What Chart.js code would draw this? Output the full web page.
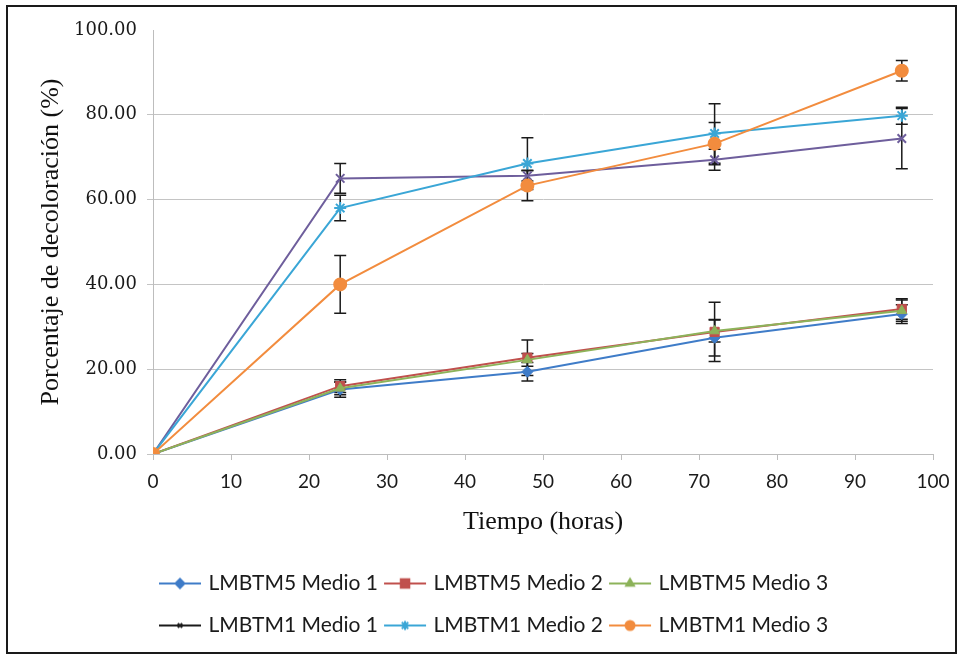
<!DOCTYPE html>
<html><head><meta charset="utf-8">
<script src="https://cdn.jsdelivr.net/npm/chart.js@4.4.0/dist/chart.umd.min.js"></script>
<style>
html,body{margin:0;padding:0;background:#fff;}
#wrap{position:relative;width:965px;height:656px;overflow:hidden;}
#frame{position:absolute;left:6px;top:5px;width:947px;height:645px;border:2px solid #1a1a1a;}
canvas{position:absolute;left:0;top:0;}
</style></head><body>
<div id="wrap"><div id="frame"></div><canvas id="c" width="965" height="656"></canvas></div>
<script>
// ---- data ----
const hours = [0, 24, 48, 72, 96];
const xTicks = [0, 10, 20, 30, 40, 50, 60, 70, 80, 90, 100];
const yTicks = [0, 20, 40, 60, 80, 100];

const seriesNames = ['LMBTM5 Medio 1', 'LMBTM5 Medio 2', 'LMBTM5 Medio 3',
                     'LMBTM1 Medio 1', 'LMBTM1 Medio 2', 'LMBTM1 Medio 3'];

const m5Medio1 = [0, 15.2, 19.4, 27.4, 33.0];
const m5Medio2 = [0, 16.0, 22.7, 28.8, 34.2];
const m5Medio3 = [0, 15.5, 22.2, 29.0, 33.8];
const m1Medio1 = [0, 65.0, 65.6, 69.4, 74.4];
const m1Medio2 = [0, 58.0, 68.5, 75.6, 79.8];
const m1Medio3 = [0, 40.0, 63.3, 73.2, 90.4];

const m5Medio1Err = [0, 1.8, 2.2, 4.3, 2.2];
const m5Medio2Err = [0, 1.5, 4.2, 7.0, 2.4];
const m5Medio3Err = [0, 1.5, 1.5, 2.6, 2.5];
const m1Medio1Err = [0, 3.5, 1.2, 2.5, 7.1];
const m1Medio2Err = [0, 3.0, 6.1, 7.0, 2.0];
const m1Medio3Err = [0, 6.8, 3.6, 5.0, 2.4];

// ---- styling ----
const colors = ['#3f7cc8', '#c0504d', '#8db35a', '#6e5e9c', '#3aa6d6', '#f28c3e'];
const legendColors = ['#3f7cc8', '#c0504d', '#8db35a', '#1a1a1a', '#3aa6d6', '#f28c3e'];
const styles = ['rectRot', 'rect', 'triangle', 'crossRot', 'star', 'circle'];
const radii = [5.5, 6.5, 5.5, 6, 6, 6];

const values = [m5Medio1, m5Medio2, m5Medio3, m1Medio1, m1Medio2, m1Medio3];
const errors = [m5Medio1Err, m5Medio2Err, m5Medio3Err, m1Medio1Err, m1Medio2Err, m1Medio3Err];

function legendIcon(i) {
  const cv = document.createElement('canvas');
  cv.width = 60; cv.height = 16;
  const ctx = cv.getContext('2d');
  ctx.strokeStyle = legendColors[i];
  ctx.fillStyle = legendColors[i];
  ctx.lineWidth = 2;
  ctx.beginPath(); ctx.moveTo(3, 8); ctx.lineTo(45, 8); ctx.stroke();
  const r = (i === 3) ? 3 : (i === 1 ? 6 : 4.5);
  Chart.helpers.drawPoint(ctx, {pointStyle: styles[i], radius: r, rotation: 0, borderWidth: i >= 3 ? 1.5 : 1}, 24, 8);
  return cv;
}

const datasets = seriesNames.map((name, i) => ({
  label: name,
  data: hours.map((h, k) => ({x: h, y: values[i][k]})),
  err: errors[i],
  borderColor: colors[i],
  backgroundColor: colors[i],
  borderWidth: 2,
  pointStyle: styles[i],
  pointRadius: radii[i],
  pointBorderWidth: (i >= 3) ? 2 : 1,
  pointBackgroundColor: colors[i],
  pointBorderColor: colors[i],
  tension: 0,
  order: 6 - i
}));

const errorBars = {
  id: 'errorBars',
  beforeDatasetsDraw(chart) {
    const ctx = chart.ctx;
    const xs = chart.scales.x, ys = chart.scales.y;
    ctx.save();
    ctx.strokeStyle = '#1a1a1a';
    ctx.lineWidth = 1.5;
    chart.data.datasets.forEach(ds => {
      ds.data.forEach((p, k) => {
        const e = ds.err[k];
        if (!e) return;
        const px = xs.getPixelForValue(p.x);
        const y1 = ys.getPixelForValue(p.y + e);
        const y2 = ys.getPixelForValue(p.y - e);
        ctx.beginPath();
        ctx.moveTo(px, y1); ctx.lineTo(px, y2);
        ctx.moveTo(px - 6, y1); ctx.lineTo(px + 6, y1);
        ctx.moveTo(px - 6, y2); ctx.lineTo(px + 6, y2);
        ctx.stroke();
      });
    });
    ctx.restore();
  }
};

new Chart(document.getElementById('c'), {
  type: 'line',
  data: {datasets},
  plugins: [errorBars],
  options: {
    responsive: false,
    animation: false,
    devicePixelRatio: 1,
    layout: {padding: {left: 30, right: 32, top: 30, bottom: 10}},
    plugins: {
      tooltip: {enabled: false},
      legend: {
        position: 'bottom',
        fullSize: false,
        align: 'start',
        labels: {
          usePointStyle: true,
          pointStyleWidth: 24,
          boxHeight: 16,
          padding: 21,
          color: '#1a1a1a',
          font: {family: 'Lato', size: 21},
          generateLabels(chart) {
            return chart.data.datasets.map((ds, i) => ({
              text: ds.label,
              fillStyle: colors[i],
              strokeStyle: colors[i],
              lineWidth: 0,
              pointStyle: legendIcon(i),
              fontColor: '#1a1a1a',
              datasetIndex: i,
              hidden: false
            }));
          }
        }
      }
    },
    scales: {
      x: {
        type: 'linear',
        min: 0, max: 100,
        afterBuildTicks(scale) { scale.ticks = xTicks.map(v => ({value: v})); },
        afterFit(scale) { scale.height = 98; },
        grid: {drawOnChartArea: false, drawTicks: true, tickLength: 6, color: '#bdbdbd'},
        border: {color: '#bdbdbd', width: 1},
        ticks: {color: '#1a1a1a', font: {family: 'Lato', size: 19}, padding: 10, maxRotation: 0},
        title: {display: true, text: 'Tiempo (horas)', color: '#111',
                font: {family: 'Liberation Serif', size: 26}, padding: {top: 4, bottom: 14}}
      },
      y: {
        min: 0, max: 100,
        afterBuildTicks(scale) { scale.ticks = yTicks.map(v => ({value: v})); },
        afterFit(scale) { scale.width = 123; },
        grid: {
          drawTicks: true, tickLength: 6,
          color: ctx => (ctx.tick && ctx.tick.value === 100) ? 'rgba(0,0,0,0)' : '#c4c4c4'
        },
        border: {color: '#bdbdbd', width: 1},
        ticks: {color: '#1a1a1a', font: {family: 'DejaVu Serif', size: 18}, padding: 10,
                callback: v => Number(v).toFixed(2)},
        title: {display: true, text: 'Porcentaje de decoloración (%)', color: '#111',
                font: {family: 'Liberation Serif', size: 26}, padding: {top: 6, bottom: 4}}
      }
    }
  }
});
</script>
</body></html>
